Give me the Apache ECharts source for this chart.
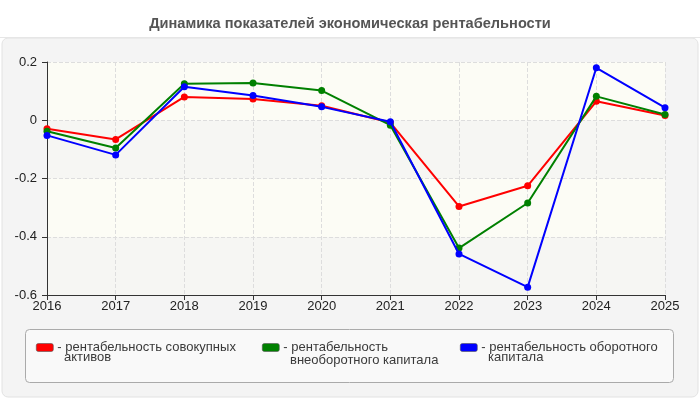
<!DOCTYPE html>
<html lang="ru">
<head>
	<meta charset="UTF-8">
	<title>Динамика показателей</title>
	<script src="https://cdn.jsdelivr.net/npm/echarts@6/dist/echarts.min.js"></script>
	<style>body{margin:0;background:#fff;}</style>
</head>
<body>
	<div id="app" style="width:700px;height:400px"></div>

	<script>
		// годы и значения рядов
		var years=["2016","2017","2018","2019","2020","2021","2022","2023","2024","2025"];
		var sovokupnye=[-0.029,-0.066,0.080,0.073,0.050,-0.008,-0.296,-0.225,0.065,0.016];
		var vneoborotnye=[-0.038,-0.095,0.125,0.128,0.102,-0.017,-0.439,-0.284,0.082,0.020];
		var oborotnye=[-0.052,-0.119,0.115,0.085,0.046,-0.005,-0.459,-0.573,0.180,0.043];
		var yTicks=[-0.6,-0.4,-0.2,0,0.2];

		var names=["рентабельность совокупных активов","рентабельность внеоборотного капитала","рентабельность оборотного капитала"];
		var firstLine=["- рентабельность совокупных","- рентабельность","- рентабельность оборотного"];
		var secondLine=["активов","внеоборотного капитала","капитала"];
		var colors=["#ff0000","#008000","#0000ff"];
		var legendX=[36,262,460];
		var secondY=[358,361,358];

		var myChart=echarts.init(document.getElementById('app'));

		function mkSeries(i,data){
			return {
				name:names[i],
				type:"line",
				data:data,
				symbol:"circle",
				symbolSize:7,
				itemStyle:{color:colors[i]},
				lineStyle:{width:2,color:colors[i]},
				z:3+i
			};
		}

		var legendFont={fontSize:13,color:"#3a3a3a",fontFamily:"Liberation Sans"};

		var legends=names.map(function(n,i){
			return {
				data:[{name:n,icon:"roundRect"}],
				left:legendX[i],
				top:341,
				itemWidth:17,
				itemHeight:8,
				itemGap:0,
				padding:0,
				selectedMode:false,
				formatter:function(){return firstLine[i];},
				textStyle:Object.assign({padding:[0,0,0,-1]},legendFont),
				itemStyle:{borderColor:"#555",borderWidth:0.6}
			};
		});

		// вторые строки подписей легенды
		var legendTail=secondLine.map(function(t,i){
			return {
				type:"text",
				left:legendX[i]+28,
				top:secondY[i]-7,
				style:{text:t,fill:legendFont.color,font:"13px 'Liberation Sans'"}
			};
		});

		var option={
			animation:false,
			textStyle:{fontFamily:"Liberation Sans"},
			graphic:[
				{type:"rect",shape:{x:2,y:38,width:696,height:359,r:6},style:{fill:"#f4f4f4",stroke:"#e2e2e2",lineWidth:1},z:-10},
				{type:"line",shape:{x1:0,y1:37.5,x2:700,y2:37.5},style:{stroke:"#e6e6e6",lineWidth:1},z:-10},
				{type:"rect",shape:{x:25.5,y:329.5,width:648,height:53,r:4},style:{fill:"#f9f9f9",stroke:"#aaa",lineWidth:1},z:-5}
			].concat(legendTail),
			title:{
				text:"Динамика показателей экономическая рентабельности",
				left:"center",
				top:11,
				textStyle:{fontSize:14.6,fontWeight:"bold",color:"#555",fontFamily:"Liberation Sans"}
			},
			legend:legends,
			grid:{left:47,right:35,top:62,bottom:105,show:true,backgroundColor:"#fcfcf6",borderWidth:0},
			xAxis:{
				type:"category",
				boundaryGap:false,
				data:years,
				axisLine:{onZero:false,lineStyle:{color:"#333"}},
				axisTick:{show:true,length:5,lineStyle:{color:"#333"}},
				axisLabel:{color:"#222",fontSize:13,margin:5},
				splitLine:{show:true,lineStyle:{type:"dashed",color:"#ddd"}}
			},
			yAxis:{
				type:"value",
				min:yTicks[0],
				max:yTicks[yTicks.length-1],
				interval:0.2,
				axisLine:{show:true,lineStyle:{color:"#333"}},
				axisTick:{show:true,length:5,lineStyle:{color:"#333"}},
				axisLabel:{color:"#222",fontSize:13,margin:10,formatter:function(v){return Math.round(v*10)/10+"";}},
				splitLine:{show:true,lineStyle:{type:"dashed",color:"#ddd"}},
				splitArea:{show:true,areaStyle:{color:["#f6f6f3","#fcfcf5"]}}
			},
			series:[
				mkSeries(0,sovokupnye),
				mkSeries(1,vneoborotnye),
				mkSeries(2,oborotnye)
			]
		};
		myChart.setOption(option);
	</script>
</body>
</html>
